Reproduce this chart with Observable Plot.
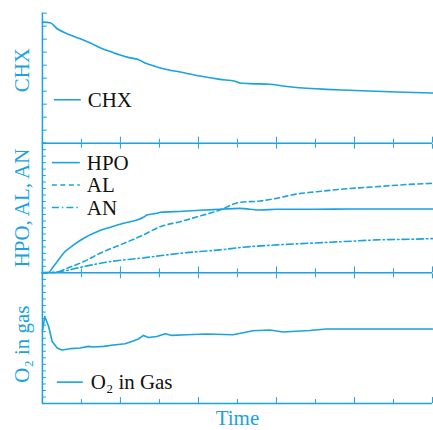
<!DOCTYPE html>
<html><head><meta charset="utf-8">
<script src="https://cdn.jsdelivr.net/npm/d3@7"></script>
<script src="https://cdn.jsdelivr.net/npm/@observablehq/plot@0.6"></script>
<style>
body{margin:0;background:#fff;overflow:hidden}
#chart{position:relative;width:433px;height:430px}
#chart svg{position:absolute;left:0;top:0}
</style></head><body><div id="chart"></div>
<script>
// ---- data (time in arbitrary units 0..10) ----
const chxTime  = [0,0.2,0.38,0.63,0.97,1.23,1.48,1.82,2.17,2.51,2.63,2.76,3.1,3.53,4.04,4.55,4.94,5.06,5.32,5.83,6.17,6.68,7.28,7.88,8.56,9.07,10];
const chxValue = [9.31,9.26,8.8,8.42,8.03,7.7,7.34,6.96,6.62,6.37,6.16,6.04,5.73,5.47,5.16,4.91,4.76,4.63,4.58,4.53,4.4,4.24,4.14,4.07,3.99,3.94,3.86];

const hpoTime  = [0,0.16,0.25,0.38,0.54,0.8,1.06,1.4,1.74,2.08,2.42,2.59,2.68,2.93,3.02,3.61,4.04,4.55,5.06,5.58,6,7,8,9,10];
const hpoValue = [0.05,0.05,0.72,1.74,3.03,4.31,5.34,6.35,7.03,7.65,8.15,8.57,8.92,9.18,9.34,9.49,9.65,9.8,9.95,9.69,9.8,9.82,9.85,9.85,9.85];

const alTime   = [0,0.33,0.63,1.06,1.48,1.99,2.59,3.02,3.53,4.04,4.55,5.06,5.58,6,6.51,7.03,7.71,8.3,8.9,9.41,10];
const alValue  = [0,0.05,0.72,1.74,3.03,4.31,5.85,7.12,7.89,8.77,9.69,10.88,11.08,11.49,12.15,12.51,12.92,13.18,13.43,13.65,13.8];

const anTime   = [0,0.46,1.06,1.74,2.51,3.19,3.7,4.55,5.15,6,6.85,7.71,8.56,9.41,10];
const anValue  = [0,0.2,0.97,1.74,2.26,2.77,3.12,3.54,3.95,4.31,4.57,4.82,5.08,5.18,5.28];

const o2Time   = [0,0.06,0.16,0.25,0.38,0.5,0.72,0.97,1.18,1.31,1.57,1.82,2.12,2.33,2.46,2.59,2.72,2.93,3.15,3.32,3.7,4.21,4.89,5.4,5.83,6.17,6.85,7.28,10];
const o2Value  = [11.1,13.3,11.8,9.5,8.5,8.2,8.4,8.5,8.75,8.65,8.75,8.96,9.16,9.57,9.88,10.43,10.12,10.27,10.69,10.43,10.53,10.64,10.53,11.15,11.25,10.95,11.19,11.4,11.4];

const xTicksMajor = [0,2,4,6,8,10];
const xTicksMinor = [1,3,5,7,9];
const yTicksTop = d3.range(0, 11, 1);
const yTicksMid = d3.range(0, 21, 1);
const yTicksBot = d3.range(0, 21, 1);

const panelLabels = ["CHX", "HPO, AL, AN", "O\u2082 in gas"];
const xTitle = "Time";

// ---- styling ----
const C = "#1aa3e0";
const FONT = "Liberation Serif";
const FS = 21;
const W = 434, H = 430;

const zip = (t, v) => t.map((d, i) => ({t: d, v: v[i]}));

function panel({top, bottom, yMax, yTicks, tickLen, hasTopEdge, series, label, labelDy, legend, showXTitle}) {
  const marks = [
    Plot.ruleX([0], {stroke: C, strokeWidth: 1.5}),
    Plot.ruleY([0], {stroke: C, strokeWidth: 1.5}),
    Plot.axisY(yTicks, {anchor: "left", tickSize: tickLen, dx: tickLen, stroke: C, fill: "none", label: null}),
    Plot.axisX(xTicksMajor, {anchor: "bottom", tickSize: 6, dy: -6, stroke: C, fill: "none", label: null}),
    Plot.axisX(xTicksMinor, {anchor: "bottom", tickSize: 4, dy: -4, stroke: C, fill: "none", label: null}),
  ];
  if (hasTopEdge) {
    marks.push(Plot.axisX(xTicksMajor, {anchor: "top", tickSize: 5, dy: 5, stroke: C, fill: "none", label: null}));
    marks.push(Plot.axisX(xTicksMinor, {anchor: "top", tickSize: 4, dy: 4, stroke: C, fill: "none", label: null}));
  }
  for (const s of series) {
    marks.push(Plot.line(s.data, {x: "t", y: "v", stroke: C, strokeWidth: 1.6, curve: s.curve || "monotone-x", strokeDasharray: s.dash}));
  }
  marks.push(Plot.text([label], {frameAnchor: "left", textAnchor: "middle", lineAnchor: "middle", rotate: -90, dx: -20, dy: labelDy, fill: C, fontSize: FS, fontFamily: FONT}));
  if (showXTitle) {
    marks.push(Plot.text([xTitle], {frameAnchor: "bottom", textAnchor: "middle", lineAnchor: "middle", dy: 14.5, fill: C, fontSize: FS, fontFamily: FONT}));
  }
  const svg = Plot.plot({
    width: W, height: H,
    marginLeft: 42, marginRight: 1, marginTop: top, marginBottom: H - bottom,
    style: {background: "transparent", overflow: "visible", fontFamily: FONT},
    x: {domain: [0, 10]},
    y: {domain: [0, yMax]},
    marks
  });
  const g = d3.select(svg).append("g");
  for (const l of legend) {
    g.append("line").attr("x1", l.x1).attr("x2", l.x2).attr("y1", l.y).attr("y2", l.y)
      .attr("stroke", C).attr("stroke-width", 1.6).attr("stroke-dasharray", l.dash || null);
    g.append("text").attr("x", l.tx).attr("y", l.y + 7).attr("fill", "#111")
      .attr("text-anchor", "start")
      .style("font-family", FONT).style("font-size", FS + "px").text(l.text);
  }
  return svg;
}

const chart = document.getElementById("chart");
chart.append(panel({
  top: 12.7, bottom: 143, yMax: 10, yTicks: yTicksTop, tickLen: 5, hasTopEdge: false,
  series: [{data: zip(chxTime, chxValue)}],
  label: panelLabels[0], labelDy: -8,
  legend: [{text: "CHX", x1: 54, x2: 81, y: 100, tx: 88}]
}));
chart.append(panel({
  top: 143, bottom: 273, yMax: 20, yTicks: yTicksMid, tickLen: 4, hasTopEdge: true,
  series: [
    {data: zip(hpoTime, hpoValue)},
    {data: zip(alTime, alValue), dash: "5,3.5"},
    {data: zip(anTime, anValue), dash: "7,3,1.5,3"}
  ],
  label: panelLabels[1], labelDy: 0,
  legend: [
    {text: "HPO", x1: 52, x2: 80, y: 163, tx: 87},
    {text: "AL", x1: 52, x2: 80, y: 185.5, tx: 87, dash: "5,3.5"},
    {text: "AN", x1: 52, x2: 80, y: 208, tx: 87, dash: "7,3,1.5,3"}
  ]
}));
chart.append(panel({
  top: 273, bottom: 404, yMax: 20, yTicks: yTicksBot, tickLen: 4, hasTopEdge: true,
  series: [{data: zip(o2Time, o2Value), curve: "linear"}],
  label: panelLabels[2], labelDy: 6,
  legend: [{text: "O\u2082 in Gas", x1: 57, x2: 83, y: 383, tx: 91}],
  showXTitle: true
}));
</script>
</body></html>
